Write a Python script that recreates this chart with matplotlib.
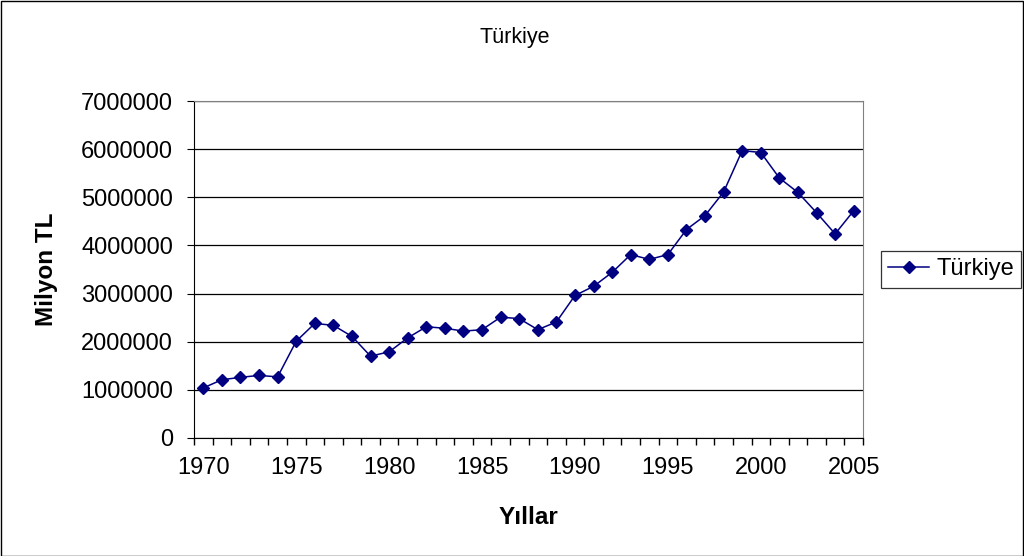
import numpy as np
import matplotlib
matplotlib.use("Agg")
from matplotlib import pyplot as plt
from matplotlib.patches import Rectangle
from matplotlib.ticker import FixedLocator, NullFormatter

plt.rcParams["font.family"] = ["Liberation Sans", "DejaVu Sans"]

years = list(range(1970, 2006))
values = [
    1040000, 1210000, 1260000, 1300000, 1270000, 2010000, 2380000, 2340000,
    2110000, 1700000, 1790000, 2080000, 2310000, 2280000, 2220000, 2250000,
    2510000, 2480000, 2250000, 2410000, 2960000, 3150000, 3440000, 3810000,
    3710000, 3810000, 4330000, 4620000, 5110000, 5970000, 5930000, 5400000,
    5100000, 4680000, 4240000, 4720000,
]
label_years = [1970, 1975, 1980, 1985, 1990, 1995, 2000, 2005]
y_ticks = [0, 1000000, 2000000, 3000000, 4000000, 5000000, 6000000, 7000000]

W, H = 1024, 556
fig = plt.figure(figsize=(W / 100, H / 100), dpi=100)
ax = fig.add_axes([194 / W, 1 - 438 / H, (863 - 194) / W, (438 - 101) / H])

ax.plot(years, values, color="#000080", linewidth=1.1, marker="D",
        markersize=6.5, label="Türkiye")

ax.set_xlim(years[0] - 0.5, years[-1] + 0.5)
ax.set_ylim(0, 7000000)

# category style axis: marks between years, labels every 5 years
ax.xaxis.set_major_locator(FixedLocator(label_years))
ax.xaxis.set_minor_locator(FixedLocator(np.arange(years[0] - 0.5, years[-1] + 1)))
ax.xaxis.set_minor_formatter(NullFormatter())
ax.tick_params(axis="x", which="major", length=0, pad=14, labelsize=17)
ax.tick_params(axis="x", which="minor", length=5, direction="out", width=1)
ax.set_yticks(y_ticks)
ax.set_yticklabels([str(v) for v in y_ticks])
ax.tick_params(axis="y", length=5, direction="out", labelsize=17, pad=10)

ax.grid(axis="y", color="black", linewidth=0.9)
ax.set_axisbelow(True)
for side in ["top", "right"]:
    ax.spines[side].set_color("#808080")
for side in ["left", "bottom"]:
    ax.spines[side].set_color("black")

ax.set_xlabel("Yıllar", fontsize=17.5, fontweight="bold", va="center")
ax.xaxis.set_label_coords(0.5, (438 - 518) / 337)
ax.set_ylabel("Milyon TL", fontsize=17.5, fontweight="bold", va="center")
ax.yaxis.set_label_coords((47 - 194) / 669, 0.5)
fig.text(515 / W, 1 - 37 / H, "Türkiye", fontsize=15.5, ha="center", va="center")

leg = fig.legend(loc="center left", bbox_to_anchor=(881 / W, 1 - 269.5 / H),
                 fontsize=17, frameon=True, fancybox=False, handlelength=1.75,
                 borderpad=0.3, handletextpad=0.3, borderaxespad=0)
leg.get_frame().set_edgecolor("black")
leg.get_frame().set_linewidth(0.9)

fig.patches.append(Rectangle((0.5 / W, 0.5 / H), 1 - 1.5 / W, 1 - 1.5 / H,
                             transform=fig.transFigure, fill=False,
                             edgecolor="black", linewidth=1))

fig.savefig("out.png", dpi=100)
